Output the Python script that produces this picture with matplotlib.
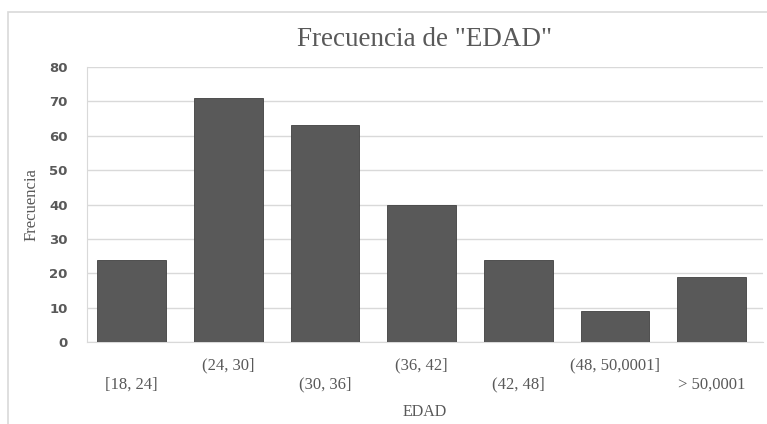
import matplotlib.pyplot as plt
from matplotlib.patches import Rectangle

categorias = ["[18, 24]", "(24, 30]", "(30, 36]", "(36, 42]", "(42, 48]", "(48, 50,0001]", "> 50,0001"]
frecuencias = [24, 71, 63, 40, 24, 9, 19]

gris_texto = "#595959"
serif = "Liberation Serif"

fig = plt.figure(figsize=(7.67, 4.24), dpi=100)
ax = fig.add_axes([87 / 767, 1 - 342 / 424, (763 - 87) / 767, (342 - 67) / 424])

# marco del gráfico
fig.patches.append(Rectangle((8 / 767, -0.1), 1.2, 1 - 12 / 424 + 0.1, transform=fig.transFigure,
                             fill=False, edgecolor="#d9d9d9", linewidth=1.2))

x = list(range(len(categorias)))
ax.bar(x, frecuencias, width=0.71, color="#595959", edgecolor="#404040", linewidth=0.6, zorder=3)

ax.set_xlim(-0.46, 6.53)
ax.set_ylim(0, 80)
ax.set_yticks(range(0, 81, 10))
ax.grid(axis="y", color="#d9d9d9", linewidth=1, zorder=0)

# etiquetas escalonadas en dos filas
impares = [i for i in x if i % 2 == 1]
pares = [i for i in x if i % 2 == 0]
ax.set_xticks(impares, [categorias[i] for i in impares])
ax.set_xticks(pares, [categorias[i] for i in pares], minor=True)
ax.tick_params(axis="x", which="both", length=0, labelsize=12, labelcolor=gris_texto)
ax.tick_params(axis="x", which="major", pad=11)
ax.tick_params(axis="x", which="minor", pad=25)
for lbl in ax.get_xticklabels(which="both"):
    lbl.set_fontfamily(serif)

ax.tick_params(axis="y", length=0, labelsize=9.5, labelcolor=gris_texto, pad=14)
for lbl in ax.get_yticklabels():
    lbl.set_fontweight("bold")

for lado in ["top", "right"]:
    ax.spines[lado].set_visible(False)
ax.spines["left"].set_color("#d9d9d9")
ax.spines["bottom"].set_color("#d9d9d9")

ax.set_title('Frecuencia de "EDAD"', fontfamily=serif, fontsize=19.5, color=gris_texto, pad=15)
ax.set_xlabel("EDAD", fontfamily=serif, fontsize=11.5, color=gris_texto, labelpad=8)
ax.set_ylabel("Frecuencia", fontfamily=serif, fontsize=12, color=gris_texto, labelpad=7)

fig.savefig("out.png", dpi=100)
